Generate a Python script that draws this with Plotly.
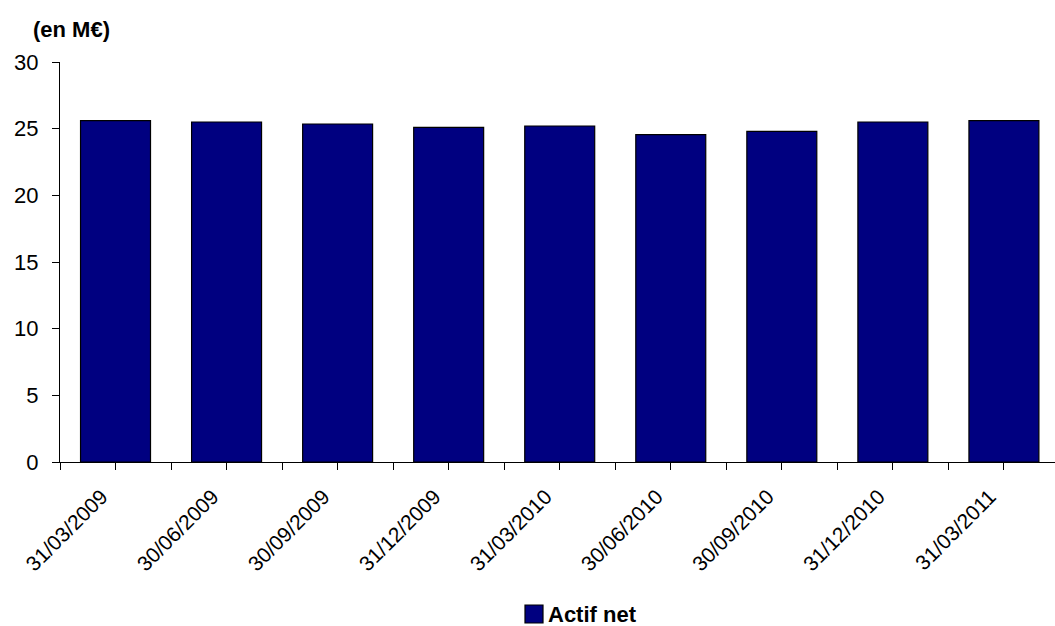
import plotly.graph_objects as go

# Quarter-end dates and net asset values (M€)
dates = ["31/03/2009", "30/06/2009", "30/09/2009", "31/12/2009", "31/03/2010",
         "30/06/2010", "30/09/2010", "31/12/2010", "31/03/2011"]
actif_net = [25.6, 25.5, 25.35, 25.1, 25.2, 24.55, 24.8, 25.5, 25.6]

series_name = "Actif net"
unit_label = "(en M€)"
y_ticks = [0, 5, 10, 15, 20, 25, 30]

FONT = "Liberation Sans, Arial, sans-serif"
NAVY = "#000080"

x_pos = list(range(len(dates)))

# ticks at category centres (labelled) and at category boundaries (unlabelled)
tick_vals, tick_text = [], []
for i, d in enumerate(dates):
    tick_vals += [i - 0.5, i]
    tick_text += ["", d]
tick_vals.append(len(dates) - 0.5)
tick_text.append("")

fig = go.Figure()
fig.add_trace(go.Bar(
    x=x_pos, y=actif_net, name=series_name,
    marker=dict(color=NAVY, line=dict(color="black", width=1.2)),
    width=0.63, showlegend=False,
))

fig.update_layout(
    width=1055, height=626,
    margin=dict(l=60, r=0, t=62, b=164),
    paper_bgcolor="white", plot_bgcolor="white",
    font=dict(family=FONT, color="black"),
    xaxis=dict(
        range=[-0.5, 8.46], tickmode="array", tickvals=tick_vals, ticktext=tick_text,
        tickangle=-45, ticks="outside", ticklen=7, tickwidth=1.2, tickcolor="black",
        showline=True, linecolor="black", linewidth=1.2, showgrid=False, zeroline=False,
        tickfont=dict(size=21, family=FONT, color="black"),
        ticklabelstandoff=6, ticklabelshift=-14,
    ),
    yaxis=dict(
        range=[0, 30], tickmode="array", tickvals=y_ticks,
        ticks="outside", ticklen=7, tickwidth=1.2, tickcolor="black",
        showline=True, linecolor="black", linewidth=1.2, showgrid=False, zeroline=False,
        tickfont=dict(size=22, family=FONT, color="black"),
        ticklabelstandoff=9,
    ),
    annotations=[
        dict(text="<b>" + unit_label + "</b>", xref="paper", yref="paper",
             x=-0.029, y=1.08, xanchor="left", yanchor="middle", showarrow=False,
             font=dict(size=22, family=FONT, color="black")),
        dict(text="<b>" + series_name + "</b>", xref="paper", yref="paper",
             x=(546 - 60) / 995, y=(462 - 614) / 400, xanchor="left", yanchor="middle",
             showarrow=False, font=dict(size=22, family=FONT, color="black")),
    ],
    shapes=[
        dict(type="rect", xref="paper", yref="paper",
             x0=(525 - 60) / 995, x1=(543 - 60) / 995,
             y0=(462 - 605) / 400, y1=(462 - 623) / 400,
             fillcolor=NAVY, line=dict(color="black", width=1.2)),
    ],
)

fig.write_html("out.html")
